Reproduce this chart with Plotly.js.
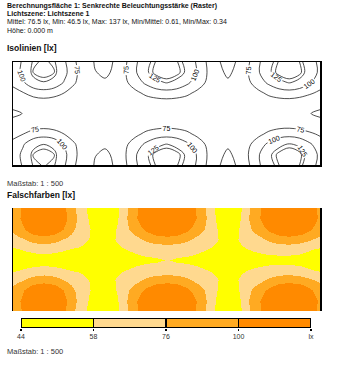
<!DOCTYPE html>
<html>
<head>
<meta charset="utf-8">
<script src="https://cdn.plot.ly/plotly-3.0.1.min.js"></script>
<style>
html,body{margin:0;padding:0;background:#fff;}
#chart{width:342px;height:365px;}
</style>
</head>
<body>
<div id="chart"></div>
<script>
// grid coordinates (m)
const xPos = [0,1,2,3,4,5,6,7,8,9,10,11,12,13,14,15,16,17,18,19,20,21,22,23,24,25,26,27,28,29,30];
const yPos = [0,1,2,3,4,5,6,7,8,9,10];

// illuminance rows (lx), from y=0 (bottom) to y=10 (top)
const row0  = [84,103,127,131,127,103,77,59,49,47,51,72,96,120,131,133,131,120,96,72,51,47,51,72,96,119,130,132,130,113,91];
const row1  = [86,106,131,136,131,107,80,61,50.5,48,52,74,98,122,134,137,134,122,98,74,53,48,53,75,98,122,133,136,133,117,94];
const row2  = [81,98,119,125,119,98,77,62,54,51.5,57,71,88,105,120,126,120,105,88,71,57,51.5,57,71,88,106,121,127,122,104,86];
const row3  = [69,75,85,90,85,75,66,59,56,55,58,63,70,80,87,90,87,80,70,63,58,55,58,63,70,80,88,91,86,79,72];
const row4  = [56,59,61,62,61,59,57,56,55,54,56,58,60,62,63,64,63,62,60,58,56,55,56,58,60,62,63,63,62,59,56];
const row5  = [46.5,50.5,52,53,52,52,51,51,52,53,53,54,55,56,56.5,58.5,56.5,56,55,54,53,53,53,54,54,54,54,54,53,50.5,46.5];
const row6  = [56,59,61,62,61,59,57,56,55,54,56,58,60,62,63,64,63,62,60,58,56,55,56,58,60,62,63,63,62,59,56];
const row7  = [68,74,84,89,84,75,66,59,56,55,58,63,70,80,87,90,87,80,70,63,58,55,58,63,70,80,87,90,85,78,71];
const row8  = [80,97,118,124,118,98,77,62,54,51.5,57,71,88,105,120,126,120,105,88,71,57,51.5,57,71,88,105,120,126,120,103,85];
const row9  = [86,106,131,136,131,108,81,61,50.5,48,52,74,98,122,134,137,134,122,98,74,53,48,53,75,98,122,134,137,133,117,94];
const row10 = [85,104,128,132,128,104,78,59,49,47,51,72,96,120,131,133,131,120,96,72,51,47,51,72,96,120,131,133,130,114,92];

// false-colour bands
const bandEdges  = [44, 58, 76, 100];
const bandLabels = ['44', '58', '76', '100', 'lx'];
const bandColors = ['#ffff00', '#ffd98f', '#ffaa22', '#ff8a00'];
const bandWidth  = [1, 1, 1, 1];

// isoline levels
const isoMain = {start: 50, end: 125, size: 25};
const isoExtra = 130;

const z = [row0,row1,row2,row3,row4,row5,row6,row7,row8,row9,row10];
const zMax = Math.max(...z.flat());
const zMin = bandEdges[0];
const span = zMax - zMin;
const cs = [];
bandColors.forEach((c, i) => {
  const a = (bandEdges[i] - zMin) / span;
  const b = i + 1 < bandEdges.length ? (bandEdges[i + 1] - zMin) / span : 1;
  cs.push([a, c]); cs.push([b, c]);
});

const labFont = {size: 7, color: '#000', family: 'Liberation Sans, Arial, sans-serif'};
const traces = [
  {
    type: 'contour', x: xPos, y: yPos, z: z, xaxis: 'x', yaxis: 'y',
    autocontour: false, contours: {coloring: 'none', start: isoMain.start, end: isoMain.end, size: isoMain.size,
      showlabels: true, labelfont: labFont},
    line: {color: '#222', width: 0.8, smoothing: 1}, showscale: false, hoverinfo: 'skip'
  },
  {
    type: 'contour', x: xPos, y: yPos, z: z, xaxis: 'x', yaxis: 'y',
    autocontour: false, contours: {coloring: 'none', start: isoExtra, end: isoExtra, size: 5,
      showlabels: true, labelfont: labFont},
    line: {color: '#222', width: 0.8, smoothing: 1}, showscale: false, hoverinfo: 'skip'
  },
  {
    type: 'heatmap', x: xPos, y: yPos, z: z, xaxis: 'x2', yaxis: 'y2',
    zsmooth: 'best', zmin: zMin, zmax: zMax, colorscale: cs, showscale: false, hoverinfo: 'skip'
  }
];
bandColors.forEach((c, i) => {
  traces.push({
    type: 'bar', orientation: 'h', x: [bandWidth[i]], y: ['band'], xaxis: 'x3', yaxis: 'y3',
    marker: {color: c, line: {color: '#000', width: 1.5}}, showlegend: false, hoverinfo: 'skip'
  });
});

const frameAxis = {showgrid: false, zeroline: false, showticklabels: false, ticks: '',
  showline: true, mirror: true, linecolor: '#000', linewidth: 1.5};

const W = 342, H = 365;
const px = v => v / W, py = v => 1 - v / H;
const tf = 'Liberation Sans, Arial, sans-serif';

const ann = [
  {text: '<b>Berechnungsfläche 1: Senkrechte Beleuchtungsstärke (Raster)</b>', y: py(6), size: 7},
  {text: '<b>Lichtszene: Lichtszene 1</b>', y: py(14), size: 7},
  {text: 'Mittel: 76.5 lx, Min: 46.5 lx, Max: 137 lx, Min/Mittel: 0.61, Min/Max: 0.34', y: py(22), size: 7},
  {text: 'Höhe: 0.000 m', y: py(30), size: 7},
  {text: '<b>Isolinien [lx]</b>', y: py(48), size: 8.5},
  {text: 'Maßstab: 1 : 500', y: py(183), size: 7.5, color: '#333'},
  {text: '<b>Falschfarben [lx]</b>', y: py(195), size: 8.5},
  {text: 'Maßstab: 1 : 500', y: py(351), size: 7.5, color: '#333'}
].map(a => ({
  text: a.text, xref: 'paper', yref: 'paper', x: px(5), y: a.y, xanchor: 'left', yanchor: 'middle',
  showarrow: false, font: {family: tf, size: a.size, color: a.color || '#111'}
}));

const layout = {
  width: W, height: H, margin: {l: 0, r: 0, t: 0, b: 0},
  paper_bgcolor: '#fff', plot_bgcolor: '#fff', showlegend: false,
  barmode: 'stack', bargap: 0,
  font: {family: tf, size: 7, color: '#222'},
  xaxis: Object.assign({}, frameAxis, {domain: [px(13), px(320)], range: [xPos[0], xPos[xPos.length-1]]}),
  yaxis: Object.assign({}, frameAxis, {domain: [py(165), py(62)], range: [yPos[0], yPos[yPos.length-1]]}),
  xaxis2: Object.assign({}, frameAxis, {domain: [px(13), px(320)], range: [xPos[0], xPos[xPos.length-1]]}),
  yaxis2: Object.assign({}, frameAxis, {domain: [py(311), py(208)], range: [yPos[0], yPos[yPos.length-1]]}),
  xaxis3: {domain: [px(21), px(311)], range: [0, bandLabels.length - 1], showgrid: false, zeroline: false,
    showline: false, tickmode: 'array', tickvals: bandLabels.map((_, i) => i), ticktext: bandLabels,
    ticks: 'outside', ticklen: 2, tickcolor: '#000', tickwidth: 1.5,
    tickfont: {family: tf, size: 7, color: '#333'}, anchor: 'y3'},
  yaxis3: {domain: [py(328), py(318)], showgrid: false, zeroline: false, showticklabels: false,
    showline: false, ticks: '', anchor: 'x3', type: 'category'},
  annotations: ann
};

Plotly.newPlot('chart', traces, layout, {staticPlot: true, displayModeBar: false});
</script>
</body>
</html>
